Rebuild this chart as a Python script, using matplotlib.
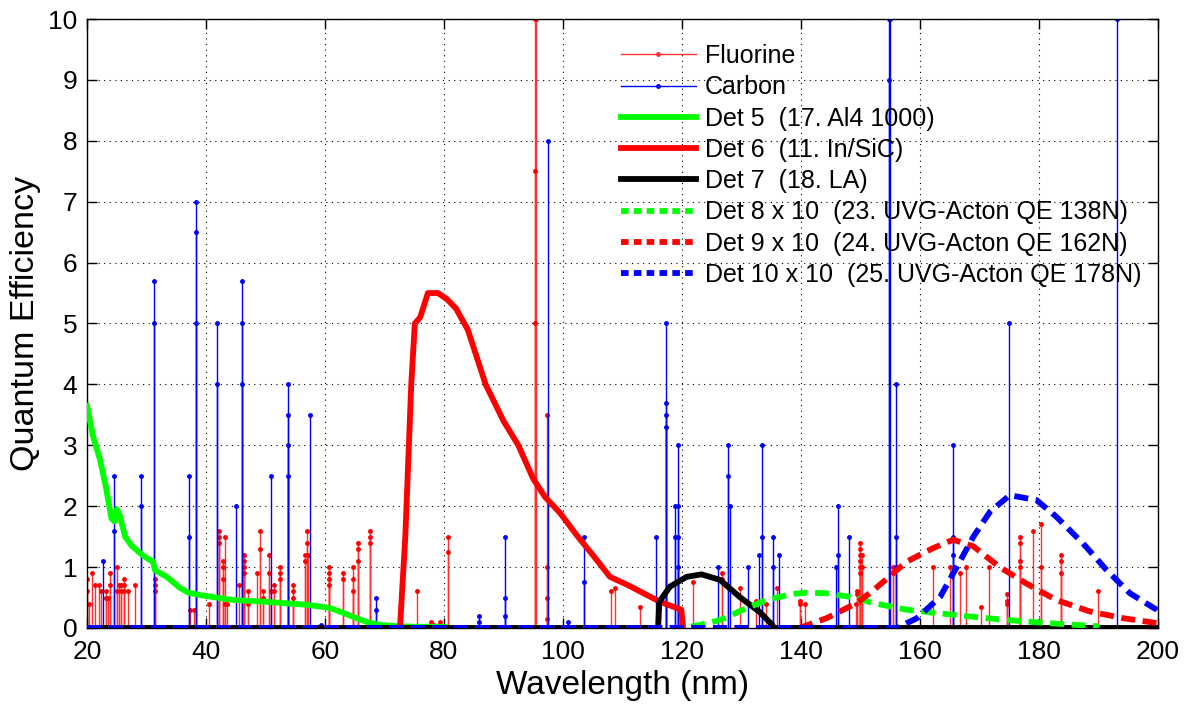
import numpy as np
import matplotlib
matplotlib.use('Agg')
from matplotlib import pyplot as plt
from matplotlib.lines import Line2D

plt.rcParams['font.family'] = ['Liberation Sans', 'DejaVu Sans']

# spectral lines: repeated wavelength = several points on the same stem
fl_wl = [20.0, 20.0, 20.4, 20.8, 21.3, 22.0, 22.4, 23.2, 23.2, 23.6, 23.9, 23.9,
         25.0, 25.0, 25.4, 25.7, 25.7, 26.2, 26.2, 26.2, 26.9, 28.0, 31.4, 31.4,
         31.4, 37.3, 37.9, 40.5, 42.1, 42.1, 42.1, 42.8, 42.8, 42.8, 43.2, 43.2,
         43.6, 45.5, 46.4, 46.4, 46.4, 46.4, 47.1, 47.1, 48.5, 49.0, 49.0, 49.6,
         49.6, 50.6, 50.6, 50.9, 51.4, 51.4, 52.4, 52.4, 52.4, 54.7, 54.7, 54.7,
         56.7, 56.7, 56.9, 56.9, 57.1, 60.7, 60.7, 60.7, 60.7, 63.0, 63.0, 64.7,
         64.7, 64.7, 65.5, 65.5, 65.5, 67.6, 67.6, 67.6, 75.5, 77.9, 78.3, 79.3,
         80.7, 80.7, 95.3, 95.3, 95.3, 95.45, 97.3, 97.3, 97.3, 97.3, 108.1, 108.8,
         112.9, 121.9, 126.7, 126.7, 129.7, 132.4, 134.2, 135.9, 139.9, 139.9,
         140.7, 149.2, 149.4, 149.4, 150.0, 150.0, 150.0, 150.0, 150.0, 150.0,
         150.3, 150.3, 155.4, 155.4, 162.2, 165.0, 166.8, 167.7, 170.2, 171.6,
         174.6, 174.6, 174.6, 176.9, 176.9, 176.9, 176.9, 179.0, 180.3, 180.3,
         183.8, 183.8, 183.8, 189.9]
fl_qe = [0.8, 0.6, 0.4, 0.9, 0.7, 0.7, 0.6, 0.6, 0.5, 0.5, 0.9, 0.7,
         1.0, 0.6, 0.7, 0.7, 0.6, 0.8, 0.7, 0.6, 0.6, 0.7, 0.8, 0.7,
         0.6, 0.3, 0.3, 0.4, 1.6, 1.5, 1.4, 1.1, 1.0, 0.8, 1.5, 0.4,
         0.4, 0.7, 1.2, 1.1, 1.0, 0.9, 0.6, 0.4, 0.9, 1.6, 1.3, 0.6,
         0.5, 1.2, 0.9, 0.6, 0.7, 0.6, 1.0, 0.9, 0.8, 0.7, 0.6, 0.5,
         1.2, 1.1, 1.6, 1.4, 1.2, 1.0, 0.9, 0.8, 0.7, 0.9, 0.8, 1.0,
         0.8, 0.6, 1.4, 1.3, 1.1, 1.6, 1.5, 1.4, 0.6, 0.1, 0.05, 0.1,
         1.5, 1.25, 10.0, 7.5, 5.0, 10.0, 3.5, 1.0, 0.5, 0.15, 0.6, 0.65,
         0.35, 0.76, 0.9, 0.8, 0.65, 0.45, 0.4, 0.65, 0.45, 0.4,
         0.4, 0.4, 0.6, 0.55, 1.4, 1.3, 1.2, 1.1, 1.0, 0.9,
         1.2, 1.0, 1.0, 0.9, 1.0, 1.0, 0.9, 1.0, 0.35, 1.0,
         0.55, 0.45, 0.4, 1.5, 1.4, 1.1, 1.0, 1.6, 1.7, 1.0,
         1.2, 1.1, 0.9, 0.6]

c_wl = [22.7, 24.5, 24.5, 29.0, 29.0, 31.3, 31.3, 37.1, 37.1, 38.4, 38.4, 38.4,
        41.9, 41.9, 45.0, 46.0, 46.0, 46.0, 51.0, 53.7, 53.7, 53.7, 53.7, 57.4,
        59.4, 68.6, 68.6, 85.9, 85.9, 90.3, 90.3, 90.3, 97.5, 100.8, 103.6,
        103.6, 115.6, 117.4, 117.4, 117.4, 117.4, 118.9, 118.9, 119.3, 119.3,
        119.3, 119.3, 126.0, 127.7, 127.7, 128.0, 131.1, 132.9, 133.4, 133.4,
        135.3, 135.3, 136.3, 145.9, 146.2, 146.2, 148.1, 154.8, 154.8, 155.0,
        156.0, 156.0, 156.0, 165.6, 165.6, 165.6, 175.0, 193.1]
c_qe = [1.1, 2.5, 1.6, 2.5, 2.0, 5.7, 5.0, 2.5, 1.5, 7.0, 6.5, 5.0,
        5.0, 4.0, 2.0, 5.7, 5.0, 4.0, 2.5, 4.0, 3.5, 3.0, 2.5, 3.5,
        0.05, 0.5, 0.3, 0.2, 0.1, 1.5, 0.5, 0.2, 8.0, 0.1, 1.5,
        0.75, 1.5, 5.0, 3.7, 3.5, 3.3, 2.0, 1.5, 3.0, 2.0,
        1.5, 1.0, 1.0, 3.0, 2.5, 2.0, 1.0, 1.2, 3.0, 1.5,
        1.5, 1.0, 1.2, 1.0, 2.0, 1.2, 1.5, 10.0, 9.0, 10.0,
        4.0, 1.5, 1.0, 3.0, 1.5, 1.2, 5.0, 10.0]

# detector quantum efficiency curves
det5_wl = [20, 21, 22.2, 23.2, 24.1, 24.6, 25.0, 25.5, 26.4, 27.5, 28.9, 30.0,
           31.1, 31.4, 33.4, 35.6, 37, 39, 44.5, 50, 52.9, 57, 60.8, 63, 65.3,
           67, 69.2, 72, 75, 80]
det5_qe = [3.65, 3.15, 2.76, 2.3, 1.8, 1.75, 1.95, 1.85, 1.5, 1.35, 1.23, 1.15,
           1.09, 0.95, 0.84, 0.66, 0.58, 0.54, 0.46, 0.43, 0.41, 0.38, 0.33, 0.25, 0.16,
           0.1, 0.05, 0.03, 0.02, 0.02]

det6_wl = [72.6, 73.5, 74.5, 75.1, 76.0, 77.3, 79.0, 80.5, 82.0, 84.0, 87.0,
           90.0, 92.5, 95.0, 97.0, 99.5, 102.5, 105.0, 107.9, 111.0, 116.3,
           119.9, 120.2]
det6_qe = [0.0, 1.5, 4.0, 5.0, 5.1, 5.5, 5.5, 5.4, 5.25, 4.9, 4.0,
           3.4, 3.0, 2.45, 2.15, 1.89, 1.5, 1.2, 0.84, 0.7, 0.43,
           0.3, 0.0]

det7_wl = [20, 116.0, 116.2, 118.0, 120.8, 123.3, 126.4, 129.7, 133.1, 135.1, 135.5, 200]
det7_qe = [0, 0, 0.43, 0.68, 0.84, 0.88, 0.79, 0.51, 0.26, 0.06, 0, 0]

det8_wl = [20, 120.2, 123, 126.4, 130.3, 134.2, 138.7, 141, 144.3, 147, 149.4, 152.1,
           157.8, 166.2, 174.6, 183, 189.7, 190]
det8_qe = [0, 0, 0.05, 0.13, 0.3, 0.46, 0.56, 0.58, 0.57, 0.53, 0.49, 0.41,
           0.3, 0.21, 0.13, 0.07, 0.03, 0]

det9_wl = [20, 139.8, 144.3, 149.4, 152.2, 157.8, 162.2, 165.6, 169.0, 173.4,
           177.9, 182.9, 188.6, 194.2, 199.8]
det9_qe = [0, 0, 0.16, 0.41, 0.62, 1.09, 1.31, 1.45, 1.34, 1.0,
           0.73, 0.46, 0.27, 0.16, 0.08]

det10_wl = [20, 156.1, 159.5, 163.4, 166.2, 169.0, 171.8, 175.1, 179.6, 182.9,
            187.4, 191.4, 195.3, 199.8, 200]
det10_qe = [0, 0, 0.16, 0.51, 1.0, 1.5, 1.91, 2.18, 2.1, 1.83,
            1.39, 0.95, 0.57, 0.3, 0.28]

labels = ['Fluorine', 'Carbon', 'Det 5  (17. Al4 1000)', 'Det 6  (11. In/SiC)',
          'Det 7  (18. LA)', 'Det 8 x 10  (23. UVG-Acton QE 138N)',
          'Det 9 x 10  (24. UVG-Acton QE 162N)', 'Det 10 x 10  (25. UVG-Acton QE 178N)']


def main():
    fig = plt.figure(figsize=(11.89, 7.04), dpi=100)
    ax = fig.add_axes([0.0732, 0.108, 0.9006, 0.865])

    # stems
    ax.vlines(fl_wl, 0, fl_qe, color='#ff3030', lw=1.0, zorder=2)
    ax.plot(fl_wl, fl_qe, '.', color='#ff0000', ms=5, zorder=2)
    ax.vlines(c_wl, 0, c_qe, color='#0000ff', lw=1.0, zorder=2)
    ax.plot(c_wl, c_qe, '.', color='#0000ff', ms=5, zorder=2)

    lw = 4.2
    ax.plot(det5_wl, det5_qe, color='#00ff00', lw=lw, zorder=3)
    ax.plot(det6_wl, det6_qe, color='#ff0000', lw=lw, zorder=3)
    ax.plot(det7_wl, det7_qe, color='black', lw=lw, zorder=3)
    dash = (2.4, 1.3)
    ax.plot(det8_wl, det8_qe, color='#00ff00', lw=lw, dashes=dash, zorder=3)
    ax.plot(det9_wl, det9_qe, color='#ff0000', lw=lw, dashes=dash, zorder=3)
    ax.plot(det10_wl, det10_qe, color='#0000ff', lw=lw, dashes=dash, zorder=3)

    ax.set_xlim(20, 200)
    ax.set_ylim(0, 10)
    ax.set_xticks(np.arange(20, 201, 20))
    ax.set_yticks(np.arange(0, 11, 1))
    ax.grid(True, color='black', ls=(0, (1, 4)), lw=0.8)
    ax.tick_params(direction='in', length=7, width=1, top=True, right=True,
                   labelsize=19)
    ax.tick_params(axis='x', pad=9)
    ax.tick_params(axis='y', pad=7)
    for s in ax.spines.values():
        s.set_linewidth(1.0)
    ax.set_xlabel('Wavelength (nm)', fontsize=24, labelpad=4)
    ax.set_ylabel('Quantum Efficiency', fontsize=24.5, labelpad=5)

    handles = [
        Line2D([], [], color='#ff3030', lw=1.0, marker='.', ms=5),
        Line2D([], [], color='#0000ff', lw=1.0, marker='.', ms=5),
        Line2D([], [], color='#00ff00', lw=lw),
        Line2D([], [], color='#ff0000', lw=lw),
        Line2D([], [], color='black', lw=lw),
        Line2D([], [], color='#00ff00', lw=lw, dashes=(1.3, 0.9)),
        Line2D([], [], color='#ff0000', lw=lw, dashes=(1.3, 0.9)),
        Line2D([], [], color='#0000ff', lw=lw, dashes=(1.3, 0.9)),
    ]
    ax.legend(handles, labels, loc='upper left', bbox_to_anchor=(0.489, 0.975),
              frameon=False, fontsize=18, handlelength=3.0, handletextpad=0.36,
              labelspacing=0.29, numpoints=1, borderaxespad=0)

    fig.savefig('out.png', dpi=100)


if __name__ == '__main__':
    main()
